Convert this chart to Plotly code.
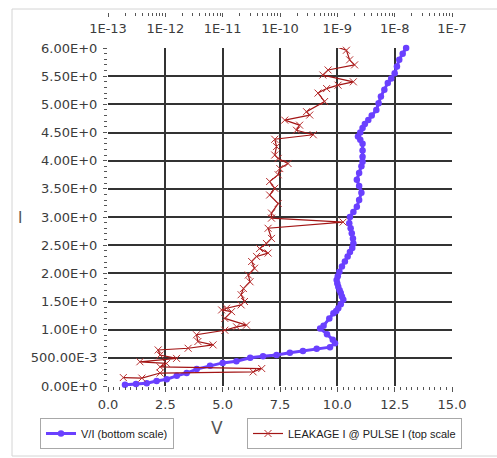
import plotly.graph_objects as go

# ---------------- data ----------------
# V/I curve (bottom linear scale): voltage V vs current I
vi_v = [0.74, 1.22, 1.69, 2.12, 2.56, 3.0, 3.43, 3.87, 4.45, 5.0, 5.6, 6.2, 6.76, 7.35,
        7.93, 8.5, 9.1, 9.68, 9.9, 9.8, 9.55, 9.25, 9.4, 9.65, 9.83, 9.95, 10.04, 10.15,
        10.26, 10.2, 10.15, 10.1, 10.04, 10.0, 9.97, 10.02, 10.09, 10.2, 10.33, 10.45,
        10.55, 10.65, 10.7, 10.68, 10.63, 10.58, 10.52, 10.55, 10.7, 10.85, 10.95, 11.05,
        10.95, 10.85, 10.95, 11.05, 11.1, 11.1, 11.1, 11.1, 11.0, 10.9, 11.0, 11.1, 11.2,
        11.35, 11.5, 11.7, 11.8, 11.9, 12.05, 12.2, 12.35, 12.5, 12.6, 12.7, 12.85, 13.0]
vi_i = [0.02, 0.035, 0.05, 0.09, 0.12, 0.18, 0.23, 0.30, 0.36, 0.41, 0.44, 0.50, 0.53, 0.55,
        0.59, 0.62, 0.66, 0.69, 0.76, 0.82, 0.92, 1.02, 1.07, 1.2, 1.29, 1.33, 1.38, 1.45,
        1.53, 1.59, 1.65, 1.7, 1.76, 1.82, 1.88, 1.95, 2.03, 2.12, 2.21, 2.3,
        2.38, 2.45, 2.53, 2.62, 2.71, 2.8, 2.89, 3.0, 3.09, 3.18, 3.3, 3.43,
        3.55, 3.66, 3.78, 3.9, 3.98, 4.07, 4.18, 4.3, 4.37, 4.43, 4.5, 4.58, 4.65,
        4.72, 4.8, 4.9, 5.02, 5.14, 5.26, 5.38, 5.46, 5.55, 5.67, 5.79, 5.9, 6.0]

# Leakage current (top log scale) vs pulse current I
leak = [1.85e-13, 3.9e-13, 8.1e-13, 3.4e-11, 4.8e-11, 8.1e-13, 1.05e-12, 3.6e-13, 1.57e-12,
        8.1e-13, 7.5e-13, 2.5e-12, 6.8e-12, 3.7e-12, 3.5e-12, 1.09e-11, 1.75e-11, 2.6e-11,
        1.09e-11, 1.43e-11, 9.6e-12, 1.17e-11, 2.1e-11, 2.4e-11, 2.1e-11, 2.3e-11, 3.0e-11,
        2.8e-11, 3.6e-11, 3.2e-11, 3.9e-11, 6.2e-11, 4.4e-11, 5.8e-11, 7.1e-11, 6.2e-11,
        1.26e-9, 7.1e-11, 7.1e-11, 9.3e-11, 6.6e-11, 8.1e-11, 6.6e-11, 9.3e-11, 9.9e-11,
        1.38e-10, 9.3e-11, 8.1e-11, 8.7e-11, 8.1e-11, 3.8e-10, 1.94e-10, 2.2e-10, 1.21e-10,
        3.3e-10, 2.9e-10, 6.0e-10, 4.6e-10, 6.5e-10, 1.03e-9, 1.9e-9, 5.6e-10, 6.9e-10,
        2.0e-9, 1.64e-9, 1.44e-9, 9.0e-10, 2.4e-9]
leak_i = [0.15, 0.14, 0.23, 0.25, 0.31, 0.34, 0.40, 0.43, 0.49,
          0.55, 0.64, 0.67, 0.73, 0.79, 0.91, 0.99, 1.05, 1.08,
          1.20, 1.32, 1.35, 1.38, 1.44, 1.50, 1.62, 1.73, 1.85,
          1.97, 2.09, 2.21, 2.30, 2.36, 2.44, 2.53, 2.62, 2.80,
          2.91, 2.98, 3.07, 3.24, 3.39, 3.51, 3.63, 3.75, 3.86,
          3.95, 4.04, 4.10, 4.25, 4.38, 4.46, 4.54, 4.63, 4.72,
          4.81, 4.87, 5.05, 5.20, 5.28, 5.34, 5.40, 5.52, 5.61,
          5.70, 5.79, 5.96, 6.03, 6.03]

y_ticks = [0, 0.5, 1, 1.5, 2, 2.5, 3, 3.5, 4, 4.5, 5, 5.5, 6]
y_labels = ["0.00E+0", "500.00E-3", "1.00E+0", "1.50E+0", "2.00E+0", "2.50E+0", "3.00E+0",
            "3.50E+0", "4.00E+0", "4.50E+0", "5.00E+0", "5.50E+0", "6.00E+0"]
x_ticks = [0, 2.5, 5, 7.5, 10, 12.5, 15]
x_labels = ["0.0", "2.5", "5.0", "7.5", "10.0", "12.5", "15.0"]
top_ticks = [1e-13, 1e-12, 1e-11, 1e-10, 1e-9, 1e-8, 1e-7]
top_labels = ["1E-13", "1E-12", "1E-11", "1E-10", "1E-9", "1E-8", "1E-7"]
grid_x = [2.5, 5, 7.5, 10, 12.5]
grid_y = [0.5, 1, 1.5, 2, 2.5, 3, 3.5, 4, 4.5, 5, 5.5]

# ---------------- styles / geometry ----------------
TICKFONT = dict(family="DejaVu Sans", size=13, color="#3c3c3c")
TICKC = "#555555"
GRIDC = "#333333"
BLUE = "#6a40ff"
RED = "#a31515"

W, H = 497, 458
ML, MR, MT, MB = 108, 45, 12, 72
PW = W - ML - MR          # paper width in px
PH = H - MT - MB          # paper height in px
BOTTOM = H - MB           # pixel row of paper y=0


def px(xp):
    return (xp - ML) / PW


def py(yp):
    return (BOTTOM - yp) / PH


fig = go.Figure()

fig.add_trace(go.Scatter(
    x=[], y=[], xaxis="x3", yaxis="y2", showlegend=False, hoverinfo="skip"))

fig.add_trace(go.Scatter(
    x=leak, y=leak_i, xaxis="x2", yaxis="y", mode="lines+markers",
    name="LEAKAGE I @ PULSE I (top scale", legend="legend2",
    line=dict(color=RED, width=1.2),
    marker=dict(symbol="x-thin", size=7, line=dict(color="#b83030", width=1), color="#b83030"),
    cliponaxis=False))

fig.add_trace(go.Scatter(
    x=vi_v, y=vi_i, xaxis="x", yaxis="y", mode="lines+markers",
    name="V/I (bottom scale)", legend="legend",
    line=dict(color=BLUE, width=3),
    marker=dict(symbol="circle", size=6.5, color=BLUE),
    cliponaxis=False))

legend_style = dict(
    xanchor="left", yanchor="top", bgcolor="white", bordercolor="#a8a8a8", borderwidth=1,
    font=dict(family="Liberation Sans", size=11, color="#222222"),
    itemwidth=30, tracegroupgap=0)

fig.update_layout(
    width=W, height=H, autosize=False, showlegend=True,
    margin=dict(l=ML, r=MR, t=MT, b=MB, pad=0, autoexpand=False),
    paper_bgcolor="white", plot_bgcolor="white",
    font=dict(family="DejaVu Sans", color="#333333"),
    xaxis=dict(
        range=[0, 15], anchor="y", tickmode="array", tickvals=x_ticks, ticktext=x_labels,
        ticks="outside", ticklen=5, tickcolor=TICKC, tickwidth=1, showgrid=False,
        zeroline=False, showline=False, tickfont=TICKFONT, ticklabelstandoff=1,
        minor=dict(dtick=0.25, tick0=0, ticks="outside", ticklen=3, tickcolor=TICKC,
                   showgrid=False)),
    xaxis2=dict(
        type="log", range=[-13, -7], overlaying="x", side="bottom", anchor="free", position=1,
        tickmode="array", tickvals=top_ticks, ticktext=top_labels,
        ticks="outside", ticklen=4, tickcolor=TICKC,
        showgrid=False, zeroline=False, showline=False, tickfont=TICKFONT,
        minor=dict(dtick="D1", ticks="outside", ticklen=3, tickcolor=TICKC, showgrid=False)),
    xaxis3=dict(
        range=[0, 15], overlaying="x", anchor="y2", tickmode="array", tickvals=grid_x,
        showticklabels=False, ticks="", showgrid=True, gridcolor=GRIDC, gridwidth=2,
        zeroline=False, showline=False),
    yaxis=dict(
        domain=[0, (BOTTOM - 48) / PH], range=[0, 6], anchor="x", tickmode="array",
        tickvals=y_ticks, ticktext=y_labels, ticks="outside", ticklen=4, tickcolor=TICKC,
        showgrid=False, zeroline=False, showline=False, tickfont=TICKFONT,
        ticklabelstandoff=3,
        minor=dict(dtick=0.1, tick0=0, ticks="outside", ticklen=3, tickcolor=TICKC,
                   showgrid=False)),
    yaxis2=dict(
        range=[0, 6], overlaying="y", anchor="x3", tickmode="array", tickvals=grid_y,
        showticklabels=False, ticks="", showgrid=True, gridcolor=GRIDC, gridwidth=2,
        zeroline=False, showline=False),
    legend=dict(x=px(40), y=py(418), **legend_style),
    legend2=dict(x=px(247), y=py(418), **legend_style),
    annotations=[
        dict(text="V", x=px(217), y=py(428), xref="paper", yref="paper",
             xanchor="center", yanchor="middle", showarrow=False,
             font=dict(family="DejaVu Sans", size=17, color="#555555")),
        dict(text="I", x=px(20), y=py(218), xref="paper", yref="paper",
             xanchor="center", yanchor="middle", showarrow=False,
             font=dict(family="DejaVu Sans", size=15, color="#555555")),
    ],
    shapes=[
        dict(type="line", xref="paper", yref="paper", x0=px(12), x1=px(12),
             y0=py(456), y1=py(9), line=dict(color="#d4d4d4", width=1)),
        dict(type="line", xref="paper", yref="paper", x0=px(12), x1=px(500),
             y0=py(9), y1=py(9), line=dict(color="#d4d4d4", width=1)),
        dict(type="line", xref="paper", yref="paper", x0=px(12), x1=px(500),
             y0=py(456), y1=py(456), line=dict(color="#d4d4d4", width=1)),
    ],
)

fig.write_html("out.html")
